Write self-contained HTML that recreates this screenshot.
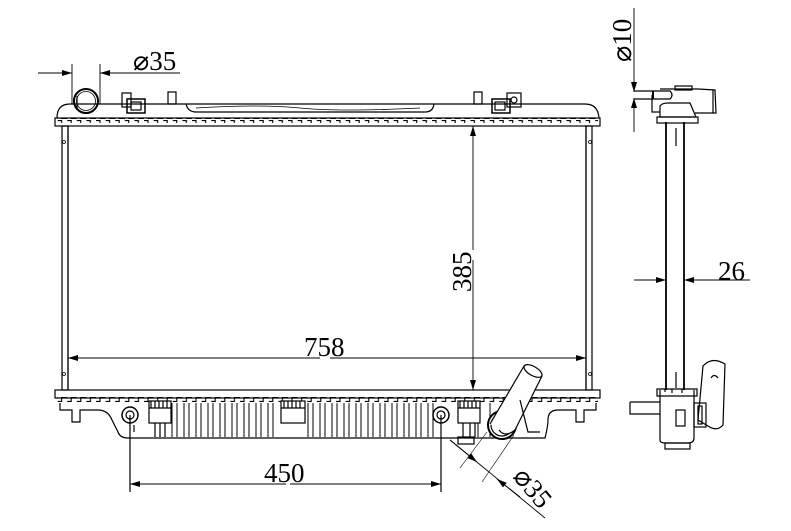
<!DOCTYPE html>
<html><head><meta charset="utf-8"><style>html,body{margin:0;padding:0;background:#fff}svg{display:block}</style></head><body>
<svg width="791" height="531" viewBox="0 0 791 531" xmlns="http://www.w3.org/2000/svg" font-family="Liberation Serif, serif" fill="none" stroke="#000" stroke-width="1.2">
<defs>
<pattern id="teeth" x="0" y="0" width="9.6" height="6" patternUnits="userSpaceOnUse">
<path d="M0 0.6 H4 V4.5 H9.6" stroke="#000" stroke-width="1.1" fill="none"/>
</pattern>
<pattern id="teethb" x="0" y="0" width="9.6" height="6" patternUnits="userSpaceOnUse">
<path d="M0 5.4 H4 V1.5 H9.6" stroke="#000" stroke-width="1.1" fill="none"/>
</pattern>
<marker id="ar" viewBox="0 0 10 6" refX="10" refY="3" markerWidth="10" markerHeight="6" orient="auto" markerUnits="userSpaceOnUse"><path d="M0 0 L10 3 L0 6z" fill="#000" stroke="none"/></marker>
</defs>

<!-- top tank -->
<path d="M57 118 Q57 104 70 104 L585 104 Q598 104 599 118"/>
<path d="M186 104 Q188 112 196 112 L425 112 Q433 112 434 104"/>
<path d="M196 108 Q260 104 300 108 T420 108" stroke-width="0.8"/>
<rect x="55" y="118" width="545" height="8"/>
<rect x="57" y="118" width="541" height="5" fill="url(#teeth)" stroke="none"/>
<circle cx="86" cy="101" r="12" stroke-width="2"/>
<circle cx="86" cy="101" r="9.5" stroke-width="0.8"/>
<line x1="77" y1="96" x2="77" y2="110"/>
<rect x="122" y="93" width="9" height="14"/>
<rect x="127" y="99" width="18" height="14" stroke-width="1.5"/>
<rect x="131" y="102" width="10" height="8"/>
<rect x="168" y="92" width="8" height="12"/>
<rect x="474" y="92" width="8" height="12"/>
<rect x="492" y="99" width="18" height="14" stroke-width="1.5"/>
<rect x="495" y="102" width="10" height="8"/>
<rect x="507" y="93" width="14" height="14"/>
<circle cx="514" cy="100" r="3"/>

<!-- core -->
<rect x="62" y="126" width="6" height="264"/>
<rect x="586" y="126" width="6" height="264"/>
<line x1="68" y1="126" x2="68" y2="390"/>
<line x1="586" y1="126" x2="586" y2="390"/>
<circle cx="64" cy="142" r="1.5" stroke-width="0.8"/><circle cx="64" cy="374" r="1.5" stroke-width="0.8"/>
<circle cx="590" cy="142" r="1.5" stroke-width="0.8"/><circle cx="590" cy="374" r="1.5" stroke-width="0.8"/>

<rect x="55" y="390" width="545" height="8"/>
<rect x="57" y="397" width="541" height="6" fill="url(#teethb)" stroke="none"/>
<path d="M60 403 L60 410 L72 410 L72 422 L80 422 L80 410 L98 410 Q108 410 112 420 L118 432 Q120 438 128 438 L440 438 L452 438 L545 438 Q548 426 548 420 Q548 410 558 410 L576 410 L576 422 L584 422 L584 410 L596 410 L596 403"/>
<g stroke-width="1">
<path d="M172 403 V437 M184 403 V437 M196 403 V437 M208 403 V437 M220 403 V437 M232 403 V437 M244 403 V437 M256 403 V437 M268 403 V437 M308 403 V437 M320 403 V437 M332 403 V437 M344 403 V437 M356 403 V437 M368 403 V437 M380 403 V437 M392 403 V437 M404 403 V437 M416 403 V437 M428 403 V437 M478 403 V437 M490 403 V437"/>
<path d="M177 403 V437 M189 403 V437 M201 403 V437 M213 403 V437 M225 403 V437 M237 403 V437 M249 403 V437 M261 403 V437 M273 403 V437 M313 403 V437 M325 403 V437 M337 403 V437 M349 403 V437 M361 403 V437 M373 403 V437 M385 403 V437 M397 403 V437 M409 403 V437 M421 403 V437 M433 403 V437"/>
</g>
<rect x="149" y="401" width="22" height="22" fill="#fff"/>
<path d="M151 401 V408 M155 401 V408 M159 401 V408 M163 401 V408 M167 401 V408 M149 408 H171 M155 423 V437 M160 423 V437 M165 423 V437"/>
<rect x="281" y="401" width="24" height="22" fill="#fff"/>
<path d="M284 401 V408 M288 401 V408 M292 401 V408 M296 401 V408 M300 401 V408 M281 408 H305"/>
<rect x="458" y="401" width="22" height="22" fill="#fff"/>
<path d="M460 401 V408 M464 401 V408 M468 401 V408 M472 401 V408 M476 401 V408 M458 408 H480 M463 423 V437 M470 423 V437 M475 423 V437"/>
<rect x="458" y="437" width="16" height="7"/>
<circle cx="130" cy="415" r="8" stroke-width="1.5"/><circle cx="130" cy="415" r="4"/>
<circle cx="441" cy="415" r="8" stroke-width="1.5"/><circle cx="441" cy="415" r="4"/>
<line x1="130" y1="415" x2="130" y2="492"/><line x1="441" y1="415" x2="441" y2="492"/>
<line x1="134" y1="425" x2="134" y2="432"/>
<circle cx="502" cy="425" r="14" stroke-width="2" fill="#fff"/>
<circle cx="502" cy="425" r="11"/>
<path d="M490 424 L524 366 L542 376 L515 430 Q505 438 499 430" fill="#fff"/>
<ellipse cx="533" cy="371" rx="10" ry="4.5" transform="rotate(30 533 371)" fill="#fff"/>
<path d="M520 400 L528 432 L540 432"/>

<g stroke-width="0.9">
<line x1="38" y1="73" x2="72" y2="73" marker-end="url(#ar)"/>
<line x1="180" y1="73" x2="100" y2="73" marker-end="url(#ar)"/>
<line x1="72" y1="64" x2="72" y2="104"/><line x1="100" y1="64" x2="100" y2="104"/>
<line x1="473" y1="250" x2="473" y2="126" marker-end="url(#ar)"/>
<line x1="473" y1="260" x2="473" y2="390" marker-end="url(#ar)"/>
<line x1="320" y1="358" x2="68" y2="358" marker-end="url(#ar)"/>
<line x1="330" y1="358" x2="586" y2="358" marker-end="url(#ar)"/>
<line x1="286" y1="484" x2="130" y2="484" marker-end="url(#ar)"/>
<line x1="290" y1="484" x2="441" y2="484" marker-end="url(#ar)"/>
<line x1="450" y1="440" x2="545" y2="518"/>
<line x1="450" y1="440" x2="477" y2="462" marker-end="url(#ar)"/>
<line x1="520" y1="497" x2="497" y2="479" marker-end="url(#ar)"/>
<line x1="487" y1="432" x2="460" y2="468" stroke-width="0.6"/>
<line x1="514" y1="435" x2="482" y2="482" stroke-width="0.6"/>
</g>
<g fill="#000" stroke="none" font-size="27">
<text x="133" y="70">⌀35</text>
<text x="304" y="356">758</text>
<text x="264" y="482">450</text>
<text transform="translate(471 292) rotate(-90)">385</text>
<text transform="translate(512 477) rotate(50)">⌀35</text>
<text x="718" y="280">26</text>
<text transform="translate(631 62) rotate(-90)">⌀10</text>
</g>

<g stroke-width="1.2">
<line x1="666" y1="122" x2="666" y2="390" stroke-width="1.8"/>
<line x1="684" y1="122" x2="684" y2="390" stroke-width="1.8"/>
<line x1="676" y1="128" x2="676" y2="146"/><line x1="676" y1="372" x2="676" y2="388"/>
<path d="M652 95 L652 112 L660 112 M660 89 L698 89 L715 90 L716 113 L695 113"/>
<rect x="675" y="86" width="17" height="4"/>
<line x1="713" y1="90" x2="713" y2="113"/>
<path d="M634 91 L670 91 Q674 95 670 99 L634 99"/>
<line x1="653" y1="91" x2="653" y2="99" stroke-width="2"/>
<path d="M660 117 L660 106 Q662 103 668 103 L690 103 L696 117 Z" fill="#fff"/>
<rect x="657" y="117" width="41" height="6"/>
<path d="M660 390 L660 440 Q660 443 665 443 L688 443 Q694 443 694 438 L694 390"/>
<path d="M657 389 L697 389 L697 396 L657 396 Z"/>
<path d="M665 389 L665 392 M672 389 V393 M682 389 V393"/>
<path d="M630 402 L660 402 M630 402 L630 414 L660 414"/>
<rect x="665" y="443" width="25" height="6"/>
<rect x="676" y="410" width="9" height="16"/>
<path d="M703 366 Q712 356 725 364 L723 425 Q717 432 708 426 L698 420 Z"/>
<rect x="694" y="403" width="12" height="24"/>
<rect x="698" y="406" width="4" height="18"/>
<path d="M711 378 Q714 373 718 378"/>
</g>
<g stroke-width="0.9">
<line x1="634" y1="8" x2="634" y2="92" marker-end="url(#ar)"/>
<line x1="634" y1="132" x2="634" y2="98" marker-end="url(#ar)"/>
<line x1="634" y1="280" x2="666" y2="280" marker-end="url(#ar)"/>
<line x1="750" y1="280" x2="684" y2="280" marker-end="url(#ar)"/>
</g>
</svg>
</body></html>
